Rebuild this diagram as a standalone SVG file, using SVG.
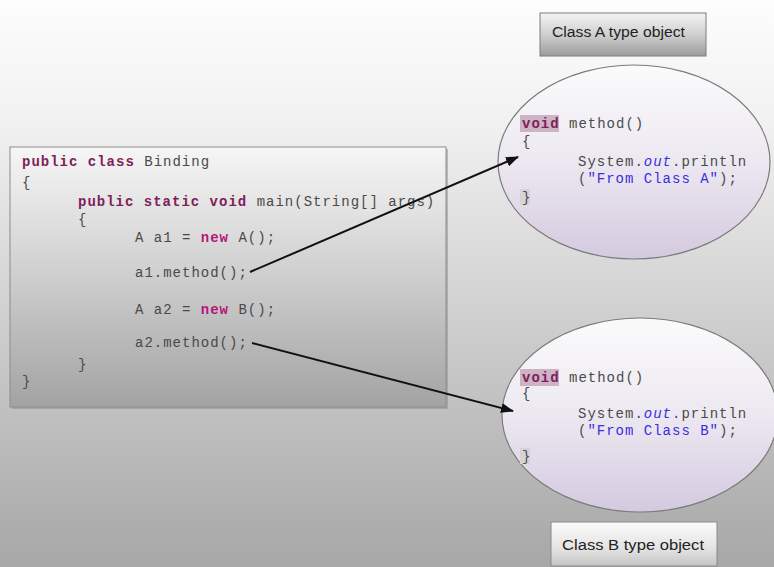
<svg xmlns="http://www.w3.org/2000/svg" width="774" height="567" viewBox="0 0 774 567">
<defs>
<linearGradient id="bg" x1="0" y1="0" x2="0" y2="1">
<stop offset="0" stop-color="#fdfdfd"/>
<stop offset="0.22" stop-color="#f1f1f1"/>
<stop offset="0.55" stop-color="#d0d0d0"/>
<stop offset="1" stop-color="#a7a7a7"/>
</linearGradient>
<linearGradient id="codeg" x1="0" y1="0" x2="0" y2="1">
<stop offset="0" stop-color="#f6f6f6"/>
<stop offset="0.45" stop-color="#d2d2d2"/>
<stop offset="1" stop-color="#a3a3a3"/>
</linearGradient>
<linearGradient id="ellg" x1="0" y1="0" x2="0" y2="1">
<stop offset="0" stop-color="#fbfbfb"/>
<stop offset="0.5" stop-color="#ece8f1"/>
<stop offset="1" stop-color="#d4cadf"/>
</linearGradient>
<linearGradient id="boxg" x1="0" y1="0" x2="0" y2="1">
<stop offset="0" stop-color="#f4f4f4"/>
<stop offset="0.5" stop-color="#d0d0d0"/>
<stop offset="1" stop-color="#9c9c9c"/>
</linearGradient>
<linearGradient id="boxg2" x1="0" y1="0" x2="0" y2="1">
<stop offset="0" stop-color="#fafafa"/>
<stop offset="0.6" stop-color="#e4e4e4"/>
<stop offset="1" stop-color="#c4c4c4"/>
</linearGradient>
<marker id="ah" markerWidth="13" markerHeight="10" refX="12" refY="5" orient="auto" markerUnits="userSpaceOnUse">
<path d="M0,0 L13,5 L0,10 Z" fill="#111"/>
</marker>
</defs>
<style>
.code{font-family:"Liberation Mono","Courier New",monospace;font-size:14px;letter-spacing:1px;fill:#4a4a4a;}
.kw{fill:#7f1f5a;font-weight:bold;}
.nw{fill:#b5157a;font-weight:bold;}
.str{fill:#3a2ee0;}
.it{fill:#3a2ee0;font-style:italic;}
.lbl{font-family:"Liberation Sans",Arial,sans-serif;font-size:14px;fill:#222;}
.ell{fill:url(#ellg);stroke:#7a7a7a;stroke-width:1.2;}
.conn{stroke:#111;stroke-width:2;fill:none;marker-end:url(#ah);}
</style>
<rect x="0" y="0" width="774" height="567" fill="url(#bg)"/>

<g id="code-box">
<rect x="12" y="149" width="436" height="260" fill="#8a8a8a" opacity="0.5"/>
<rect x="10" y="147" width="436" height="260" fill="url(#codeg)" stroke="#8c8c8c" stroke-width="1"/>
<text class="code" x="22" y="166"><tspan class="kw">public class</tspan> Binding</text>
<text class="code" x="22" y="187">{</text>
<text class="code" x="78" y="206"><tspan class="kw">public static void</tspan> main(String[] args)</text>
<text class="code" x="78" y="224">{</text>
<text class="code" x="135" y="242">A a1 = <tspan class="nw">new</tspan> A();</text>
<text class="code" x="135" y="277">a1.method();</text>
<text class="code" x="135" y="314">A a2 = <tspan class="nw">new</tspan> B();</text>
<text class="code" x="135" y="347">a2.method();</text>
<text class="code" x="78" y="369">}</text>
<text class="code" x="22" y="386">}</text>
</g>

<g id="object-a">
<ellipse class="ell" cx="634" cy="162" rx="136" ry="97"/>
<rect x="520" y="115" width="39" height="17" fill="#cdb3c6"/>
<rect x="520" y="189" width="10" height="16" fill="#d6d2d8"/>
<text class="code" x="522" y="128"><tspan class="kw">void</tspan> method()</text>
<text class="code" x="522" y="146">{</text>
<text class="code" x="578" y="166">System.<tspan class="it">out</tspan>.println</text>
<text class="code" x="578" y="183">(<tspan class="str">"From Class A"</tspan>);</text>
<text class="code" x="522" y="202">}</text>
</g>

<g id="object-b">
<ellipse class="ell" cx="640" cy="415" rx="138" ry="97"/>
<rect x="520" y="369" width="39" height="17" fill="#cdb3c6"/>
<rect x="520" y="448" width="10" height="16" fill="#d6d2d8"/>
<text class="code" x="522" y="382"><tspan class="kw">void</tspan> method()</text>
<text class="code" x="522" y="398">{</text>
<text class="code" x="578" y="418">System.<tspan class="it">out</tspan>.println</text>
<text class="code" x="578" y="435">(<tspan class="str">"From Class B"</tspan>);</text>
<text class="code" x="522" y="461">}</text>
</g>

<g id="label-a">
<rect x="540" y="13" width="166" height="43" fill="url(#boxg)" stroke="#7d7d7d" stroke-width="1"/>
<text class="lbl" x="552" y="37" textLength="133" lengthAdjust="spacingAndGlyphs">Class A type object</text>
</g>

<g id="label-b">
<rect x="551" y="522" width="166" height="44" fill="url(#boxg2)" stroke="#8a8a8a" stroke-width="1"/>
<text class="lbl" x="562" y="550" textLength="142" lengthAdjust="spacingAndGlyphs">Class B type object</text>
</g>

<g id="connectors">
<line class="conn" x1="250" y1="272" x2="518" y2="157"/>
<line class="conn" x1="252" y1="343" x2="513" y2="411"/>
</g>
</svg>
